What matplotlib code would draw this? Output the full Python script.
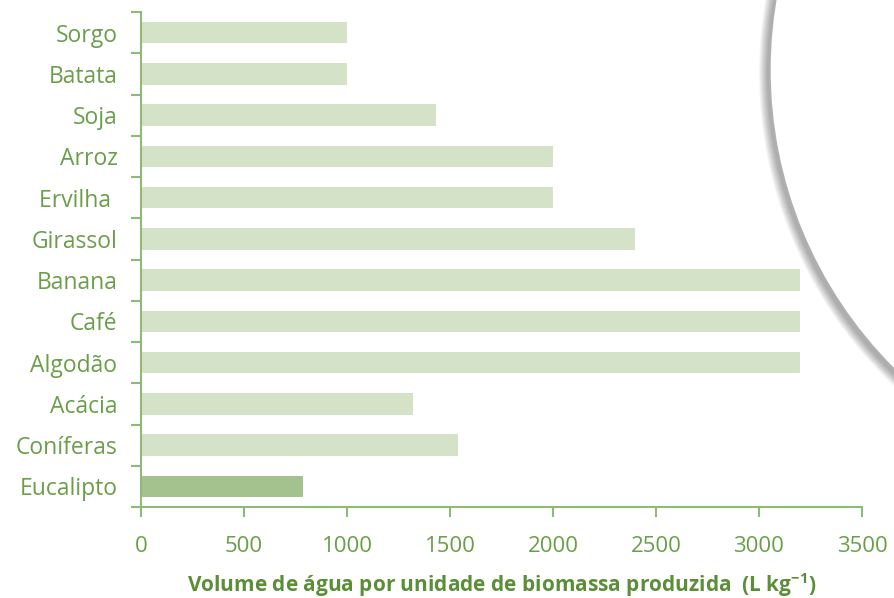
import matplotlib.pyplot as plt
from matplotlib.patches import Circle

culturas = ["Sorgo", "Batata", "Soja", "Arroz", "Ervilha ", "Girassol", "Banana",
            "Café", "Algodão", "Acácia", "Coníferas", "Eucalipto"]
volume = [1000, 1000, 1430, 2000, 2000, 2400, 3200, 3200, 3200, 1320, 1540, 785]
cores = ["#d4e2c8"] * 11 + ["#a4c28e"]
x_ticks = [0, 500, 1000, 1500, 2000, 2500, 3000, 3500]

W, H = 894, 598
fig = plt.figure(figsize=(W / 100, H / 100), dpi=100)
plt.rcParams['font.family'] = ['Open Sans', 'DejaVu Sans']

texto = "#6a9e49"
eixo = "#8dba78"

ax = fig.add_axes([141 / W, 1 - 507 / H, (862 - 141) / W, (507 - 12) / H])
n = len(culturas)
pos = list(range(n))
ax.barh(pos, volume, height=0.52, color=cores, zorder=2)
ax.set_ylim(n - 0.5, -0.5)
ax.set_xlim(0, 3500)

ax.set_yticks(pos)
ax.set_yticklabels(culturas, fontsize=16.5, color=texto)
ax.set_yticks([i - 0.5 for i in range(n + 1)], minor=True)
ax.tick_params(axis='y', which='major', length=0, pad=17)
ax.tick_params(axis='y', which='minor', length=7, width=1.5, color=eixo)

ax.set_xticks(x_ticks)
ax.set_xticklabels([str(v) for v in x_ticks], fontsize=16, color=texto)
ax.tick_params(axis='x', length=7, width=1.5, color=eixo, pad=14)

for s in ["top", "right"]:
    ax.spines[s].set_visible(False)
for s in ["left", "bottom"]:
    ax.spines[s].set_color(eixo)
    ax.spines[s].set_linewidth(1.5)

ax.set_xlabel("Volume de água por unidade de biomassa produzida  (L kg$^{\\mathdefault{-1}}$)",
              fontsize=15, color="#5a8f38", fontweight="bold", labelpad=10)

# decorative circle with a soft drop shadow in the upper right
ov = fig.add_axes([0, 0, 1, 1], zorder=5)
ov.set_xlim(0, W)
ov.set_ylim(H, 0)
ov.axis("off")
cx, cy, r = 1192, 70, 422
for k in range(9, 0, -1):
    ov.add_patch(Circle((cx - 2, cy + 3), r + k, color="#000000", alpha=0.04, lw=0))
ov.add_patch(Circle((cx, cy), r, facecolor="white", edgecolor="#b0b0b0", lw=1.0))

fig.savefig("out.png", dpi=100, facecolor="white")
